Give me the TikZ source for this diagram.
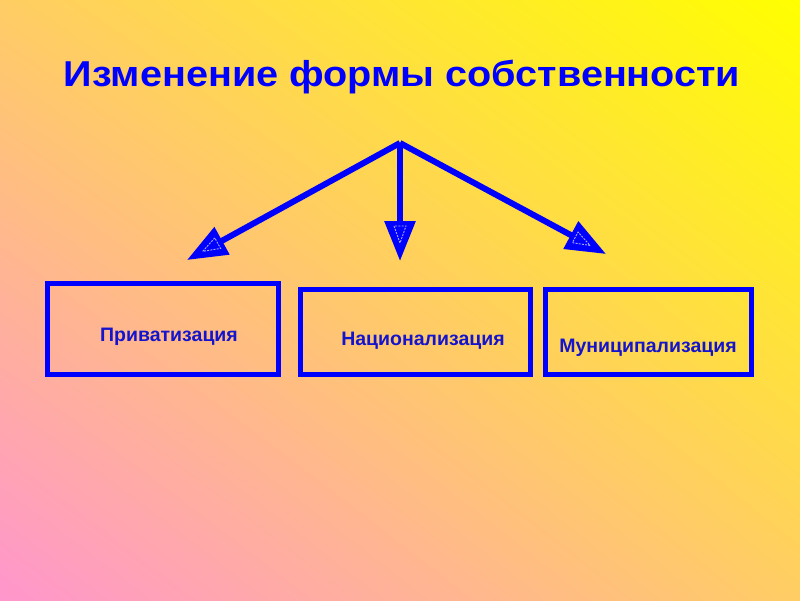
\documentclass[tikz,border=0pt]{standalone}
\usepackage{fontspec}
\setmainfont{Liberation Sans}
\usetikzlibrary{arrows.meta,shadings,calc}
\definecolor{bgyellow}{RGB}{255,255,0}
\definecolor{bgpink}{RGB}{255,150,205}
\definecolor{bgorange}{RGB}{255,205,100}
\definecolor{mainblue}{RGB}{0,0,255}
\definecolor{textblue}{RGB}{20,20,205}
\definecolor{innerline}{RGB}{170,170,255}
\tikzset{
  box/.style={draw=mainblue, line width=5pt, inner sep=0pt},
  lbl/.style={text=textblue, font=\bfseries\fontsize{19.5}{22}\selectfont, inner sep=0pt, anchor=base},
  conn/.style={draw=mainblue, line width=6pt, -{Triangle[length=40pt,width=30pt]}, shorten >=0pt},
  innertri/.style={draw=innerline, line width=0.9pt, dash pattern=on 2pt off 1.2pt}
}
\newcommand{\innermark}[2]{%
  \coordinate (ia) at ($(#1)!18pt!(#2)$);
  \coordinate (ib) at ($(#1)!35pt!(#2)$);
  \draw[innertri] (ia) -- ($(ib)!6pt!90:(#2)$) -- ($(ib)!6pt!-90:(#2)$) -- cycle;}
\begin{document}
\begin{tikzpicture}[x=1pt,y=-1pt]
\useasboundingbox (0,0) rectangle (800,600);
\shade[upper right=bgyellow, lower left=bgpink, upper left=bgorange, lower right=bgorange] (0,0) rectangle (800,600);
\node[text=mainblue, font=\bfseries\fontsize{36}{42}\selectfont, inner sep=0pt, anchor=base, xscale=1.1] (title) at (402,86) {Изменение формы собственности};
\coordinate (top) at (400,143);
\coordinate (tl) at (187,260);
\coordinate (tm) at (400,261);
\coordinate (tr) at (606,254);
\draw[conn] (top) -- (tl);
\draw[conn] (top) -- (tm);
\draw[conn] (top) -- (tr);
\innermark{tl}{top}
\innermark{tm}{top}
\innermark{tr}{top}
\draw[box] (47.5,283.5) rectangle (278.5,374.5);
\draw[box] (300.5,289.5) rectangle (530.5,374.5);
\draw[box] (545.5,289.5) rectangle (751.5,374.5);
\node[lbl] (b1) at (169,341) {Приватизация};
\node[lbl] (b2) at (423,345.5) {Национализация};
\node[lbl] (b3) at (648,352.5) {Муниципализация};
\end{tikzpicture}
\end{document}
